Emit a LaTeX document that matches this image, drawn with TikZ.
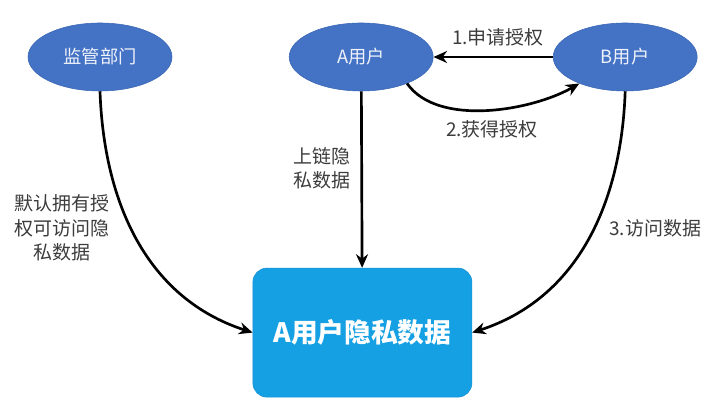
\documentclass[tikz,border=0pt]{standalone}
\usepackage{fontspec}
\setmainfont{Noto Sans CJK SC}
\usepackage{xcolor}
\usepackage{tikz}
\usetikzlibrary{arrows.meta,positioning,shapes.geometric}
\definecolor{userblue}{HTML}{4472C4}
\definecolor{userline}{HTML}{3B66B4}
\definecolor{datablue}{HTML}{16A0E4}
\definecolor{dataline}{HTML}{1290D2}
\definecolor{labelgray}{HTML}{3C3C3C}
\definecolor{usertext}{HTML}{EEF2FA}
\tikzset{
  party/.style={draw=userline, ellipse, fill=userblue, text=usertext, minimum width=36mm, minimum height=17mm, inner sep=0pt, font=\fontsize{13}{15}\selectfont},
  privdata/.style={draw=dataline, rounded corners=10pt, fill=datablue, text=white, minimum width=54.75mm, minimum height=32.25mm, font=\fontsize{19}{22}\selectfont\bfseries},
  flowlabel/.style={text=labelgray, inner sep=1pt, font=\fontsize{13.5}{17.5}\selectfont},
  arrow/.style={-{Stealth[length=3.4mm, width=3mm]}, line width=1.9pt, draw=black}
}
\begin{document}
\begin{tikzpicture}
  \useasboundingbox (0,0) rectangle (18,10.425);
  \node[party] (regulator) at (2.5,9.0) {监管部门};
  \node[party] (usera) at (9.03,9.0) {A用户};
  \node[party] (userb) at (15.63,9.0) {B用户};
  \node[privdata] (privacy) at (9.06,2.11) {A用户隐私数据};

  \draw[arrow] (userb) -- (usera);
  \draw[arrow] (usera.-30) to[out=-55, in=-150, looseness=0.8] (userb.-150);
  \draw[arrow] (usera) -- (privacy);
  \draw[arrow] (regulator.south) to[out=-88, in=162] (privacy.west);
  \draw[arrow] (userb.south) to[out=-92, in=18] (privacy.east);

  \node[flowlabel] (ask) at (12.45,9.5) {1.申请授权};
  \node[flowlabel] (grant) at (12.3,7.2) {2.获得授权};
  \node[flowlabel, align=left] (upload) at (8.05,6.22) {上链隐\\私数据};
  \node[flowlabel, align=center] (default) at (1.55,4.72) {默认拥有授\\权可访问隐\\私数据};
  \node[flowlabel] (access) at (16.38,4.72) {3.访问数据};
\end{tikzpicture}
\end{document}
